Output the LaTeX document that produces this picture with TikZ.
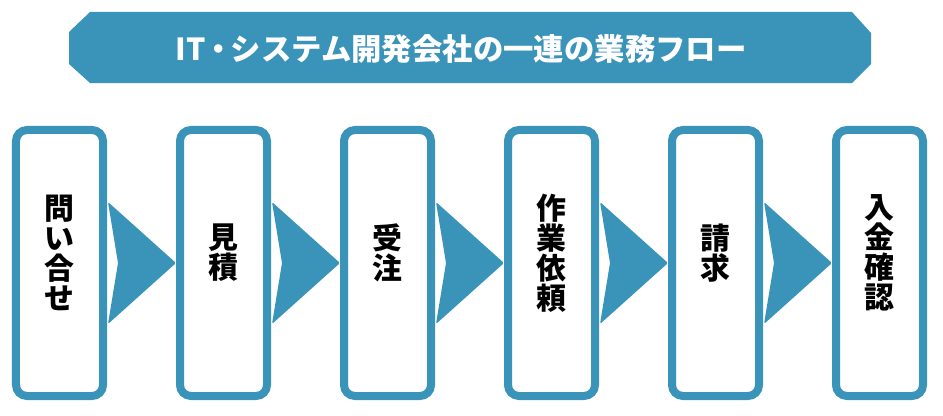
\documentclass[tikz,border=0pt]{standalone}
\usepackage{fontspec}
\newfontfamily\jp{Noto Sans CJK JP}
\usetikzlibrary{calc}
\definecolor{teal1}{HTML}{3A93B9}
\begin{document}
\begin{tikzpicture}[x=1bp,y=1bp,
  stepbox/.style={draw=teal1,line width=8bp,fill=white,rounded corners=11bp,
    minimum width=87bp,minimum height=266bp,inner sep=0pt},
  steptext/.style={font=\jp\bfseries\fontsize{30}{30}\selectfont,align=center,
    text=black,inner sep=0pt},
  chev/.style={fill=teal1,rounded corners=1.5bp},
  banner/.style={fill=teal1}]
\useasboundingbox (0,0) rectangle (943,415);
% banner
\fill[banner] (69,383) -- (90,403) -- (852,403) -- (871,382) -- (871,351) -- (852,332) -- (90,332) -- (69,351) -- cycle;
\node[font=\jp\bfseries\fontsize{30.5}{31}\selectfont,text=white,inner sep=0pt] (title) at (461,366) {IT\kern-0.08em・\kern-0.08emシステム開発会社の一連の業務フロー};
% boxes
\foreach \i/\t in {1/問\\い\\合\\せ,2/見\\積,3/受\\注,4/作\\業\\依\\頼,5/請\\求,6/入\\金\\確\\認}{
  \node[stepbox] (b\i) at ({59.5+164*(\i-1)},152) {};
  \node[steptext] (t\i) at ($(b\i.center)+(0,10)$) {\t};
}
% chevrons
\foreach \i [evaluate=\i as \j using int(\i+1)] in {1,...,5}{
  \fill[chev] ($(b\i.east)+(1,61)$) -- (b\j.west) -- ($(b\i.east)+(1,-61)$) -- ($(b\i.east)+(11,0)$) -- cycle;
}
\end{tikzpicture}
\end{document}
